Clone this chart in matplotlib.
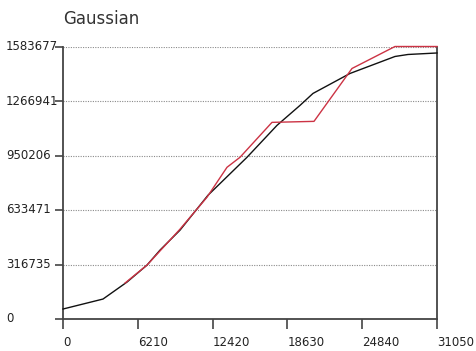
import matplotlib
matplotlib.use("Agg")
import matplotlib.pyplot as plt
import matplotlib.transforms as mtransforms

title = "Gaussian"
x_ticks = [0, 6210, 12420, 18630, 24840, 31050]
y_ticks = [0, 316735, 633471, 950206, 1266941, 1583677]

black_x = [0, 3321, 5313, 6974, 8053, 9713, 12038, 15276, 17766, 19676, 20755, 23827, 27562, 28642, 31050]
black_y = [58000, 116000, 214600, 313300, 400300, 516300, 719300, 939800, 1125400, 1241400, 1311000, 1427000, 1525700, 1537300, 1546000]

red_x = [5147, 6974, 9713, 11955, 13615, 14695, 17351, 20838, 23993, 27562, 31050]
red_y = [208800, 313300, 522000, 707700, 881700, 939800, 1142800, 1148600, 1456000, 1583677, 1583677]

W, H = 476, 351
fig = plt.figure(figsize=(W / 100, H / 100), dpi=100)
ax = fig.add_axes([63 / W, 1 - 319 / H, (437 - 63) / W, (319 - 46.5) / H])

ax.set_xlim(x_ticks[0], x_ticks[-1])
ax.set_ylim(y_ticks[0], y_ticks[-1])

for yv in y_ticks[1:]:
    ax.axhline(yv, color="#8a8a8a", lw=0.8, ls=(0, (1, 1.2)), zorder=1)

ax.plot(black_x, black_y, color="#111111", lw=1.0, zorder=3, clip_on=False)
ax.plot(red_x, red_y, color="#cc3344", lw=1.0, zorder=4, clip_on=False)

for s in ["left", "right", "bottom"]:
    ax.spines[s].set_color("#444444")
    ax.spines[s].set_linewidth(1.3)
ax.spines["top"].set_visible(False)

ax.set_xticks(x_ticks)
ax.set_yticks(y_ticks)
ax.set_xticklabels([])
ax.set_yticklabels([])
ax.tick_params(axis="x", direction="out", length=7, width=1.2, color="#444444")
ax.tick_params(axis="y", direction="out", length=6, width=1.2, color="#444444")

ytrans = mtransforms.blended_transform_factory(fig.transFigure, ax.transData)
for yv in y_ticks:
    ax.text(6 / W, yv, str(yv), transform=ytrans, ha="left", va="center",
            fontsize=8.5, color="#222222", family="DejaVu Sans", clip_on=False)

xtrans = mtransforms.blended_transform_factory(ax.transData, fig.transFigure)
for xv in x_ticks:
    ax.text(xv, 1 - 343 / H, str(xv), transform=xtrans, ha="left", va="center",
            fontsize=8.5, color="#222222", family="DejaVu Sans", clip_on=False)

fig.text(63 / W, 1 - 19 / H, title, ha="left", va="center", fontsize=12,
         color="#333333", family="DejaVu Sans")

fig.savefig("out.png", dpi=100)
